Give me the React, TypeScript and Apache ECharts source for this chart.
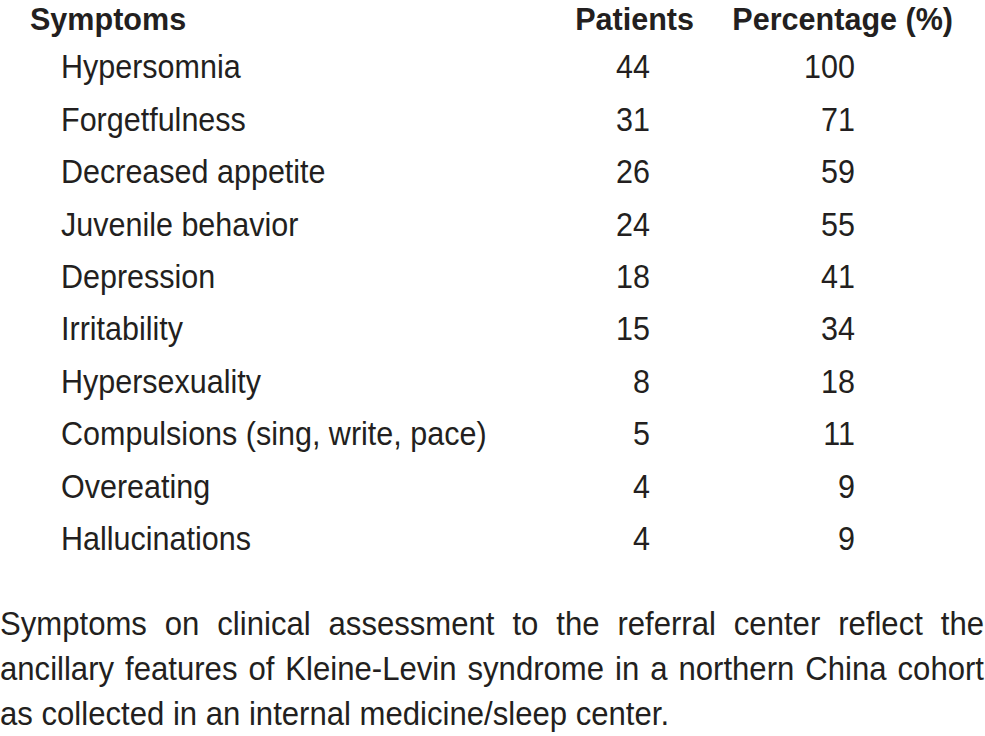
import React, { useEffect, useRef } from "react";
import * as echarts from "echarts";

const headers = ["Symptoms", "Patients", "Percentage (%)"];
const symptoms = [
  "Hypersomnia",
  "Forgetfulness",
  "Decreased appetite",
  "Juvenile behavior",
  "Depression",
  "Irritability",
  "Hypersexuality",
  "Compulsions (sing, write, pace)",
  "Overeating",
  "Hallucinations",
];
const patients = [44, 31, 26, 24, 18, 15, 8, 5, 4, 4];
const percentages = [100, 71, 59, 55, 41, 34, 18, 11, 9, 9];
const captionLines = [
  "Symptoms on clinical assessment to the referral center reflect the",
  "ancillary features of Kleine-Levin syndrome in a northern China cohort",
  "as collected in an internal medicine/sleep center.",
];

const FONT = "'Liberation Sans', Arial, sans-serif";
const COLOR = "#231f20";

function measure(text: string, size: number): number {
  const c = document.createElement("canvas").getContext("2d")!;
  c.font = `${size}px ${FONT}`;
  return c.measureText(text).width;
}

export default function App() {
  const ref = useRef<HTMLDivElement>(null);
  useEffect(() => {
    document.body.style.margin = "0";
    const chart = echarts.init(ref.current!, null, { renderer: "svg" });
    const fs = 33;
    const cfs = 34;
    const els: any[] = [];
    const txt = (
      text: string,
      x: number,
      y: number,
      align: string,
      bold = false,
      size = fs,
      sx = 0.925
    ) => ({
      type: "text",
      x,
      y,
      scaleX: sx,
      style: {
        text,
        fill: COLOR,
        font: `${bold ? "bold " : ""}${size}px ${FONT}`,
        lineHeight: size - 2,
        textAlign: align,
        textVerticalAlign: "middle",
      },
    });
    // headers
    els.push(txt(headers[0], 30, 19.5, "left", true, 32, 0.955));
    els.push(txt(headers[1], 694, 19.5, "right", true, 32, 0.955));
    els.push(txt(headers[2], 953, 19.5, "right", true, 32, 0.955));
    const y0 = 67;
    const step = 52.4;
    symptoms.forEach((s, i) => {
      const y = y0 + i * step;
      els.push(txt(s, 61, y, "left"));
      els.push(txt(String(patients[i]), 650, y, "right"));
      els.push(txt(String(percentages[i]), 855, y, "right"));
    });
    // caption
    const csx = 0.915;
    const cy0 = 624;
    const cstep = 45;
    const left = 0;
    const right = 984;
    captionLines.forEach((line, li) => {
      const y = cy0 + li * cstep;
      if (li < captionLines.length - 1) {
        const words = line.split(" ");
        const widths = words.map((w) => measure(w, cfs) * csx);
        const total = widths.reduce((a, b) => a + b, 0);
        const gap = (right - left - total) / (words.length - 1);
        let x = left;
        words.forEach((w, wi) => {
          els.push(txt(w, x, y, "left", false, cfs, csx));
          x += widths[wi] + gap;
        });
      } else {
        els.push(txt(line, left, y, "left", false, cfs, csx));
      }
    });
    chart.setOption({
      animation: false,
      backgroundColor: "#ffffff",
      graphic: { elements: els },
    });
    return () => chart.dispose();
  }, []);
  return <div ref={ref} style={{ width: 985, height: 736 }} />;
}
